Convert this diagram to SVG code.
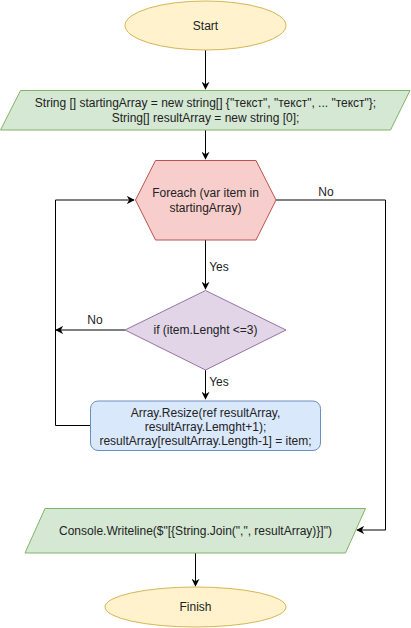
<svg xmlns="http://www.w3.org/2000/svg" width="411" height="628" viewBox="0 0 411 628">
<defs>
<style>
text{font-family:"Liberation Sans",Arial,sans-serif;font-size:12px;fill:#222;text-anchor:middle}
.term{fill:#fff2cc;stroke:#d6b656;stroke-width:1}
.io{fill:#d5e8d4;stroke:#82b366;stroke-width:1}
.loop{fill:#f8cecc;stroke:#b85450;stroke-width:1}
.dec{fill:#e1d5e7;stroke:#9673a6;stroke-width:1}
.proc{fill:#dae8fc;stroke:#6c8ebf;stroke-width:1}
.edge{fill:none;stroke:#000;stroke-width:1}
</style>
<marker id="arr" viewBox="0 0 10 10" refX="9" refY="5" markerWidth="8" markerHeight="8" markerUnits="userSpaceOnUse" orient="auto">
<path d="M0,0 L10,5 L0,10 L3,5 Z" fill="#000"/>
</marker>
</defs>
<rect width="411" height="628" fill="#fff"/>
<g id="connectors">
<path class="edge" d="M205.5,50 V89" marker-end="url(#arr)"/>
<path class="edge" d="M205.5,130 V159" marker-end="url(#arr)"/>
<path class="edge" d="M205.5,240 V289" marker-end="url(#arr)"/>
<text x="219" y="271" style="text-anchor:middle">Yes</text>
<path class="edge" d="M205.5,370 V399" marker-end="url(#arr)"/>
<text x="219" y="386">Yes</text>
<path class="edge" d="M125,330 H56" marker-end="url(#arr)"/>
<text x="95" y="324">No</text>
<path class="edge" d="M90,425.5 H55.5 V200 H134" marker-end="url(#arr)"/>
<path class="edge" d="M276,200 H385.5 V530 H357" marker-end="url(#arr)"/>
<text x="326" y="196">No</text>
<path class="edge" d="M195.5,553 V586" marker-end="url(#arr)"/>
</g>
<g id="start">
<ellipse class="term" cx="205.5" cy="25.5" rx="80.5" ry="24.5"/>
<text x="205.5" y="29.5">Start</text>
</g>
<g id="init">
<polygon class="io" points="20.5,90.5 410,90.5 390.5,130 0.5,130"/>
<text x="205.5" y="107">String [] startingArray = new string[] {"текст", "текст", ... "текст"};</text>
<text x="205.5" y="122">String[] resultArray = new string [0];</text>
</g>
<g id="foreach">
<polygon class="loop" points="135.5,200 155.5,160.5 256,160.5 276,200 256,240 155.5,240"/>
<text x="205.5" y="197">Foreach (var item in</text>
<text x="205.5" y="212">startingArray)</text>
</g>
<g id="if">
<polygon class="dec" points="205.5,290.5 286,330 205.5,370 125,330"/>
<text x="205.5" y="334">if (item.Lenght &lt;=3)</text>
</g>
<g id="resize">
<rect class="proc" x="90.5" y="401" width="230" height="49.5" rx="7.5" ry="7.5"/>
<text x="205.5" y="416.5">Array.Resize(ref resultArray,</text>
<text x="205.5" y="430.5">resultArray.Lemght+1);</text>
<text x="205.5" y="444.5">resultArray[resultArray.Length-1] = item;</text>
</g>
<g id="output">
<polygon class="io" points="45,508.5 365.5,508.5 345.5,553 25,553"/>
<text x="195.5" y="535">Console.Writeline($"[{String.Join(",", resultArray)}]")</text>
</g>
<g id="finish">
<ellipse class="term" cx="195.5" cy="607" rx="90.5" ry="20"/>
<text x="195.5" y="611">Finish</text>
</g>
</svg>
